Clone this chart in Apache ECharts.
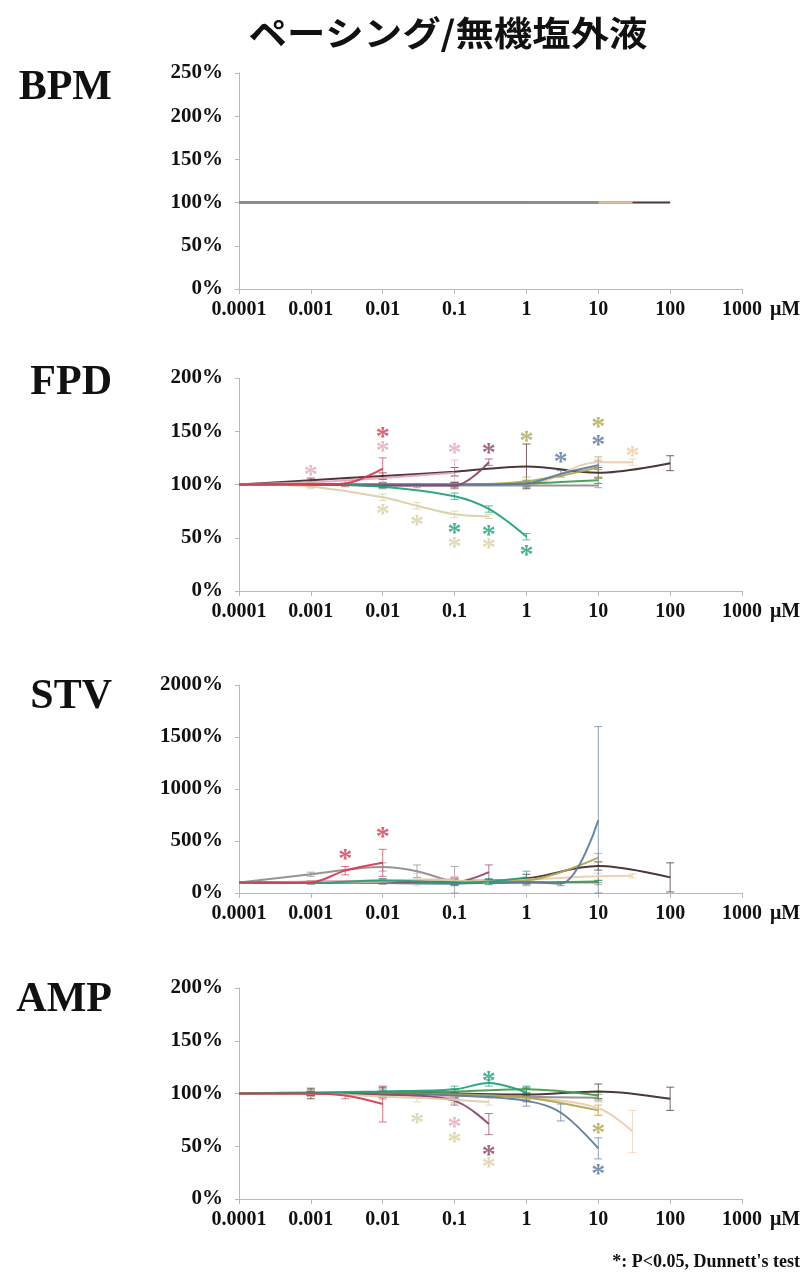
<!DOCTYPE html>
<html><head><meta charset="utf-8">
<script src="https://cdn.jsdelivr.net/npm/echarts@6/dist/echarts.min.js"></script>
<style>html,body{margin:0;padding:0;background:#fff}#c{width:811px;height:1279px}</style>
</head><body><div id="c"></div>
<script>
// ---------- tick labels ----------
const xTickLabels = ['0.0001','0.001','0.01','0.1','1','10','100','1000'];
const xUnit = 'μM';
const panelNames = ['BPM','FPD','STV','AMP'];
const yMaxes = [250, 200, 2000, 200];
const ySteps = [50, 50, 500, 50];

// ---------- concentrations (μM) per compound ----------
const concRed    = [0.0001, 0.001, 0.003, 0.01];
const concPink   = [0.0001, 0.001, 0.01, 0.1];
const concMaroon = [0.0001, 0.001, 0.01, 0.1, 0.3];
const concOlive  = [0.0001, 0.001, 0.01, 0.1, 1, 10];
const concBlue   = [0.0001, 0.001, 0.01, 0.1, 1, 3, 10];
const concPeach  = [0.0001, 0.001, 0.01, 0.1, 1, 10, 30];
const concTeal   = [0.0001, 0.001, 0.01, 0.1, 0.3, 1];
const concBeige  = [0.0001, 0.001, 0.01, 0.03, 0.1, 0.3];
const concBrown  = [0.0001, 0.001, 0.01, 0.1, 1, 10, 100];
const concGray   = [0.0001, 0.001, 0.01, 0.03, 0.1, 1, 10];
const concGreen  = [0.0001, 0.001, 0.01, 0.1, 1, 10];

// ---------- BPM (%) ----------
const bpmRed    = [100, 100, 100, 100];
const bpmPink   = [100, 100, 100, 100];
const bpmMaroon = [100, 100, 100, 100, 100];
const bpmOlive  = [100, 100, 100, 100, 100, 100];
const bpmBlue   = [100, 100, 100, 100, 100, 100, 100];
const bpmPeach  = [100, 100, 100, 100, 100, 100, 100];
const bpmTeal   = [100, 100, 100, 100, 100, 100];
const bpmBeige  = [100, 100, 100, 100, 100, 100];
const bpmBrown  = [100, 100, 100, 100, 100, 100, 100];
const bpmGray   = [100, 100, 100, 100, 100, 100, 100];
const bpmGreen  = [100, 100, 100, 100, 100, 100];

// ---------- FPD (%) and SD ----------
const fpdRed    = [100, 100, 101, 115];            const fpdRedSd    = [0, 2, 3, 10];
const fpdPink   = [100, 102, 106, 111];            const fpdPinkSd   = [0, 3, 5, 12];
const fpdMaroon = [100, 100, 99, 99, 121];         const fpdMaroonSd = [0, 2, 2, 3, 3];
const fpdOlive  = [100, 100, 100, 100, 103, 116];  const fpdOliveSd  = [0, 1, 2, 2, 4, 10];
const fpdBlue   = [100, 100, 100, 100, 101, 110, 118]; const fpdBlueSd = [0, 1, 2, 2, 3, 3, 4];
const fpdPeach  = [100, 100, 100, 100, 100, 121, 121]; const fpdPeachSd = [0, 1, 1, 2, 2, 3, 3];
const fpdTeal   = [100, 100, 98, 89, 77, 51];      const fpdTealSd   = [0, 1, 2, 3, 3, 3];
const fpdBeige  = [100, 98, 88, 80, 72, 70];       const fpdBeigeSd  = [0, 2, 3, 3, 3, 2];
const fpdBrown  = [100, 104, 108, 112, 117, 111, 120]; const fpdBrownSd = [0, 2, 3, 4, 21, 5, 7];
const fpdGray   = [100, 100, 99, 99, 99, 99, 99];  const fpdGraySd   = [0, 1, 2, 2, 2, 2, 2];
const fpdGreen  = [100, 100, 100, 100, 101, 104];  const fpdGreenSd  = [0, 1, 1, 2, 2, 3];

// ---------- STV (%) and SD ----------
const stvRed    = [100, 104, 215, 290];            const stvRedSd    = [0, 10, 40, 130];
const stvPink   = [100, 110, 120, 130];            const stvPinkSd   = [0, 10, 20, 30];
const stvMaroon = [100, 100, 110, 105, 200];       const stvMaroonSd = [0, 10, 20, 30, 70];
const stvOlive  = [100, 100, 105, 100, 120, 340];  const stvOliveSd  = [0, 10, 10, 20, 30, 40];
const stvBlue   = [100, 100, 95, 90, 105, 90, 700]; const stvBlueSd  = [0, 10, 10, 10, 20, 20, 900];
const stvPeach  = [100, 100, 100, 110, 130, 160, 165]; const stvPeachSd = [0, 10, 10, 10, 20, 30, 20];
const stvTeal   = [100, 95, 120, 100, 110, 150];   const stvTealSd   = [0, 10, 20, 30, 30, 60];
const stvBeige  = [100, 105, 110, 130, 120, 100];  const stvBeigeSd  = [0, 10, 20, 60, 30, 20];
const stvBrown  = [100, 105, 110, 115, 140, 260, 150]; const stvBrownSd = [0, 10, 20, 30, 40, 40, 140];
const stvGray   = [100, 180, 250, 210, 115, 100, 100]; const stvGraySd = [0, 20, 40, 60, 140, 30, 20];
const stvGreen  = [100, 105, 110, 95, 100, 110];   const stvGreenSd  = [0, 10, 10, 10, 10, 10];

// ---------- AMP (%) and SD ----------
const ampRed    = [100, 100, 98, 90];              const ampRedSd    = [0, 2, 3, 17];
const ampPink   = [100, 100, 99, 96];              const ampPinkSd   = [0, 3, 4, 5];
const ampMaroon = [100, 100, 99, 93, 71];          const ampMaroonSd = [0, 2, 3, 4, 10];
const ampOlive  = [100, 100, 100, 99, 96, 84];     const ampOliveSd  = [0, 2, 3, 3, 4, 5];
const ampBlue   = [100, 100, 100, 98, 93, 82, 48]; const ampBlueSd   = [0, 2, 3, 3, 5, 8, 10];
const ampPeach  = [100, 100, 99, 98, 96, 86, 64];  const ampPeachSd  = [0, 2, 3, 3, 4, 6, 20];
const ampTeal   = [100, 101, 102, 104, 110, 101];  const ampTealSd   = [0, 3, 3, 3, 3, 5];
const ampBeige  = [100, 100, 97, 96, 94, 92];      const ampBeigeSd  = [0, 3, 3, 4, 3, 3];
const ampBrown  = [100, 100, 101, 100, 99, 102, 95]; const ampBrownSd = [0, 5, 5, 4, 6, 7, 11];
const ampGray   = [100, 100, 100, 99, 99, 97, 96]; const ampGraySd   = [0, 2, 2, 2, 2, 3, 3];
const ampGreen  = [100, 100, 101, 102, 104, 98];   const ampGreenSd  = [0, 2, 2, 2, 3, 3];

// ---------- significance marks (*: P<0.05) ----------
const fpdStarConc = [0.01, 0.001, 0.01, 0.1, 0.3, 1, 10, 3, 10, 30, 0.1, 0.3, 1, 0.01, 0.03, 0.1, 0.3];
const fpdStarVal  = [150, 115, 137, 135, 135, 147, 160, 127, 143, 133, 60, 58, 40, 78, 68, 47, 46];
const fpdStarOf   = ['red','pink','pink','pink','maroon','olive','olive','blue','blue','peach','teal','teal','teal','beige','beige','beige','beige'];
const stvStarConc = [0.003, 0.01];
const stvStarVal  = [390, 600];
const stvStarOf   = ['red','red'];
const ampStarConc = [0.3, 0.03, 0.1, 0.3, 0.1, 0.3, 10, 10];
const ampStarVal  = [118, 78, 60, 36, 74, 48, 68, 30];
const ampStarOf   = ['teal','beige','beige','beige','pink','maroon','olive','blue'];

// ---------- styles ----------
const colors = {
  red:'#d43a50', pink:'#e6a6b8', maroon:'#8c4468', olive:'#aea64e', blue:'#5a789e',
  peach:'#f0caa8', teal:'#1f9f7a', beige:'#d8cfa4', brown:'#3e2626', gray:'#8c8c8c', green:'#3f9a4a'
};
const drawOrder = ['brown','peach','gray','green','olive','blue','pink','maroon','beige','teal','red'];
const drawOrderBpm = ['brown','peach','red','pink','maroon','teal','beige','blue','green','olive','gray'];

const compound = {
  red:    {conc:concRed,    bpm:bpmRed,    fpd:fpdRed,    stv:stvRed,    amp:ampRed,    fpdSd:fpdRedSd,    stvSd:stvRedSd,    ampSd:ampRedSd},
  pink:   {conc:concPink,   bpm:bpmPink,   fpd:fpdPink,   stv:stvPink,   amp:ampPink,   fpdSd:fpdPinkSd,   stvSd:stvPinkSd,   ampSd:ampPinkSd},
  maroon: {conc:concMaroon, bpm:bpmMaroon, fpd:fpdMaroon, stv:stvMaroon, amp:ampMaroon, fpdSd:fpdMaroonSd, stvSd:stvMaroonSd, ampSd:ampMaroonSd},
  olive:  {conc:concOlive,  bpm:bpmOlive,  fpd:fpdOlive,  stv:stvOlive,  amp:ampOlive,  fpdSd:fpdOliveSd,  stvSd:stvOliveSd,  ampSd:ampOliveSd},
  blue:   {conc:concBlue,   bpm:bpmBlue,   fpd:fpdBlue,   stv:stvBlue,   amp:ampBlue,   fpdSd:fpdBlueSd,   stvSd:stvBlueSd,   ampSd:ampBlueSd},
  peach:  {conc:concPeach,  bpm:bpmPeach,  fpd:fpdPeach,  stv:stvPeach,  amp:ampPeach,  fpdSd:fpdPeachSd,  stvSd:stvPeachSd,  ampSd:ampPeachSd},
  teal:   {conc:concTeal,   bpm:bpmTeal,   fpd:fpdTeal,   stv:stvTeal,   amp:ampTeal,   fpdSd:fpdTealSd,   stvSd:stvTealSd,   ampSd:ampTealSd},
  beige:  {conc:concBeige,  bpm:bpmBeige,  fpd:fpdBeige,  stv:stvBeige,  amp:ampBeige,  fpdSd:fpdBeigeSd,  stvSd:stvBeigeSd,  ampSd:ampBeigeSd},
  brown:  {conc:concBrown,  bpm:bpmBrown,  fpd:fpdBrown,  stv:stvBrown,  amp:ampBrown,  fpdSd:fpdBrownSd,  stvSd:stvBrownSd,  ampSd:ampBrownSd},
  gray:   {conc:concGray,   bpm:bpmGray,   fpd:fpdGray,   stv:stvGray,   amp:ampGray,   fpdSd:fpdGraySd,   stvSd:stvGraySd,   ampSd:ampGraySd},
  green:  {conc:concGreen,  bpm:bpmGreen,  fpd:fpdGreen,  stv:stvGreen,  amp:ampGreen,  fpdSd:fpdGreenSd,  stvSd:stvGreenSd,  ampSd:ampGreenSd}
};
const stars = {
  fpd: {conc:fpdStarConc, val:fpdStarVal, of:fpdStarOf},
  stv: {conc:stvStarConc, val:stvStarVal, of:stvStarOf},
  amp: {conc:ampStarConc, val:ampStarVal, of:ampStarOf}
};
const panelKeys = ['bpm','fpd','stv','amp'];

const SERIF = '"Liberation Serif", "Times New Roman", serif';
const gridBoxes = [
  {left:239, width:503, top:73,  height:216},
  {left:239, width:503, top:378, height:213},
  {left:239, width:503, top:685, height:208},
  {left:239, width:503, top:988, height:211}
];
const labelCenters = [88, 383, 697, 1000];

function errRender(color){
  return function(params, api){
    const x = api.value(0), y = api.value(1), s = api.value(2);
    const p1 = api.coord([x, y + s]);
    const p2 = api.coord([x, Math.max(y - s, 0)]);
    const w = 4;
    const st = {stroke: color, lineWidth: 1, opacity: 0.7};
    return {type:'group', children:[
      {type:'line', shape:{x1:p1[0], y1:p1[1], x2:p2[0], y2:p2[1]}, style:st},
      {type:'line', shape:{x1:p1[0]-w, y1:p1[1], x2:p1[0]+w, y2:p1[1]}, style:st},
      {type:'line', shape:{x1:p2[0]-w, y1:p2[1], x2:p2[0]+w, y2:p2[1]}, style:st}
    ]};
  };
}

const xAxes = [], yAxes = [], series = [], graphics = [];
gridBoxes.forEach((g, gi) => {
  xAxes.push({
    type:'log', logBase:10, min:0.0001, max:1000, gridIndex:gi,
    axisLine:{show:true, lineStyle:{color:'#b8b8b8', width:1}},
    axisTick:{show:true, length:5, lineStyle:{color:'#b8b8b8'}},
    splitLine:{show:false}, minorTick:{show:false},
    axisLabel:{margin:11, fontFamily:SERIF, fontWeight:'bold', fontSize:20, color:'#111',
      formatter: v => xTickLabels[Math.round(Math.log10(v)) + 4]},
    name:xUnit, nameLocation:'end', nameGap:28,
    nameTextStyle:{fontFamily:SERIF, fontWeight:'bold', fontSize:20, color:'#111', verticalAlign:'top', padding:[11,0,0,0]}
  });
  yAxes.push({
    type:'value', min:0, max:yMaxes[gi], interval:ySteps[gi], gridIndex:gi,
    axisLine:{show:true, lineStyle:{color:'#b8b8b8', width:1}},
    axisTick:{show:true, length:4, lineStyle:{color:'#b8b8b8'}},
    splitLine:{show:false},
    axisLabel:{margin:16, fontFamily:SERIF, fontWeight:'bold', fontSize:21, color:'#111',
      formatter: v => v + '%'}
  });
  graphics.push({type:'text', x:112, y:labelCenters[gi],
    style:{text:panelNames[gi], align:'right', verticalAlign:'middle', font:'bold 42px ' + SERIF, fill:'#111'}});

  const key = panelKeys[gi];
  (gi === 0 ? drawOrderBpm : drawOrder).forEach(k => {
    const d = compound[k];
    series.push({
      type:'line', xAxisIndex:gi, yAxisIndex:gi, smooth:0.35, symbol:'none', silent:true,
      data: d.conc.map((c, i) => [c, d[key][i]]),
      lineStyle:{width:2, color:colors[k], opacity:0.92}, z:3
    });
    const sd = d[key + 'Sd'];
    if (sd) {
      series.push({
        type:'custom', xAxisIndex:gi, yAxisIndex:gi, silent:true, z:2,
        data: d.conc.map((c, i) => [c, d[key][i], sd[i]]).filter(r => r[2] > 0),
        encode:{x:0, y:1},
        renderItem: errRender(colors[k])
      });
    }
  });
  const s = stars[key];
  if (s) {
    s.conc.forEach((c, i) => {
      series.push({
        type:'scatter', xAxisIndex:gi, yAxisIndex:gi, silent:true, symbolSize:2,
        itemStyle:{color:'rgba(0,0,0,0)'}, z:5,
        data:[[c, s.val[i]]],
        label:{show:true, position:'inside', formatter:'*', fontFamily:SERIF, fontWeight:'bold',
          fontSize:28, color:colors[s.of[i]], offset:[0, 7]}
      });
    });
  }
});

graphics.push({type:'text', x:448, y:33, scaleX:1.13,
  style:{text:'ペーシング/無機塩外液', align:'center', verticalAlign:'middle',
    font:'bold 34px "Noto Sans CJK JP", sans-serif', fill:'#111'}});
graphics.push({type:'text', x:800, y:1262,
  style:{text:"*: P<0.05, Dunnett's test", align:'right', verticalAlign:'middle',
    font:'bold 18px ' + SERIF, fill:'#111'}});

const chart = echarts.init(document.getElementById('c'), null, {renderer:'canvas'});
chart.setOption({
  animation:false,
  backgroundColor:'#fff',
  grid: gridBoxes,
  xAxis: xAxes,
  yAxis: yAxes,
  series: series,
  graphic: graphics
});
</script></body></html>
